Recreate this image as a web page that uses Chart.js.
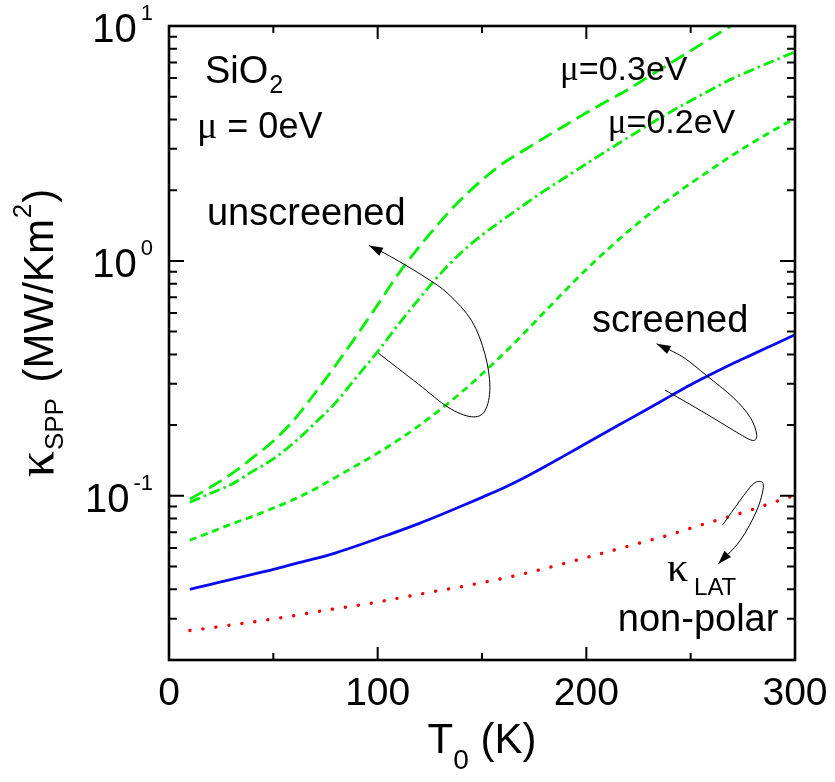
<!DOCTYPE html>
<html>
<head>
<meta charset="utf-8">
<script src="https://cdn.jsdelivr.net/npm/chart.js@4.4.1/dist/chart.umd.min.js"></script>
<style>
  html, body { margin: 0; padding: 0; background: #ffffff; }
  #wrap { width: 835px; height: 782px; }
</style>
</head>
<body>
<div id="wrap"><canvas id="c" width="835" height="782"></canvas></div>
<script>
// ---------------- data ----------------
const temperatures = [10,20,30,40,50,60,70,80,90,100,110,120,130,140,150,160,170,180,190,200,210,220,230,240,250,260,270,280,290,300];

// unscreened, mu = 0.3 eV (long dashes)
const unscreenedMu03 = [0.0968,0.109,0.124,0.145,0.171,0.211,0.274,0.361,0.482,0.650,0.883,1.15,1.47,1.83,2.21,2.60,2.95,3.35,3.78,4.27,4.79,5.37,6.10,6.92,7.85,8.91,10.1,11.5,12.9,14.5];
// unscreened, mu = 0.2 eV (dash-dot)
const unscreenedMu02 = [0.0938,0.1026,0.112,0.127,0.1435,0.1687,0.204,0.250,0.321,0.411,0.537,0.692,0.881,1.084,1.288,1.496,1.73,1.99,2.27,2.59,2.95,3.35,3.80,4.29,4.81,5.37,5.97,6.53,7.13,7.76];
// unscreened, mu = 0 eV (short dashes)
const unscreenedMu0 = [0.0647,0.070,0.0759,0.0817,0.0887,0.0966,0.107,0.120,0.135,0.152,0.173,0.1995,0.233,0.275,0.330,0.400,0.491,0.607,0.750,0.920,1.114,1.334,1.578,1.845,2.14,2.455,2.82,3.20,3.61,4.04];
// screened, mu = 0 eV (solid blue)
const screenedMu0 = [0.040,0.042,0.0441,0.0463,0.0486,0.0513,0.0540,0.0572,0.0612,0.0658,0.0707,0.0763,0.0828,0.0902,0.0985,0.1078,0.1192,0.1330,0.1490,0.1675,0.1880,0.2105,0.2360,0.2650,0.2970,0.3300,0.3650,0.4010,0.4410,0.4850];
// kappa_LAT non-polar (red dots)
const kappaLat = [0.0267,0.0274,0.0282,0.0290,0.0299,0.0309,0.0320,0.0331,0.0341,0.0353,0.0367,0.0381,0.0396,0.0410,0.0427,0.0445,0.0466,0.0490,0.0517,0.0546,0.0577,0.0610,0.0645,0.0683,0.0728,0.0775,0.0823,0.0877,0.0940,0.1005];

// axes
const xMin = 0, xMax = 300;
const yMin = 0.02, yMax = 10;
const xMajorTicks = [0, 100, 200, 300];
const xMinorTicks = [50, 150, 250];
const yMajorExponents = [-1, 0, 1];
const yMinorTicks = [0.02,0.03,0.04,0.05,0.06,0.07,0.08,0.09,0.2,0.3,0.4,0.5,0.6,0.7,0.8,0.9,2,3,4,5,6,7,8,9];

// annotation arrows, in data coordinates [T, value]; last point = arrow tip
const unscreenedArrow = [[100.3,0.405],[119.5,0.299],[133.8,0.238],[145.0,0.217],[151.4,0.230],[153.8,0.290],[151.4,0.402],[145.0,0.557],[133.8,0.724],[122.7,0.853],[106.7,1.038],[95.8,1.164]];
const screenedArrow = [[237.7,0.282],[257.6,0.223],[273.6,0.183],[280.0,0.172],[281.6,0.183],[278.5,0.216],[270.4,0.262],[257.6,0.325],[246.4,0.389],[233.7,0.444]];
const latArrow = [[265.3,0.0752],[278.4,0.1085],[283.2,0.115],[284.8,0.1085],[281.6,0.0863],[273.6,0.0643],[263.2,0.0512]];

// text annotations: anchor (left, baseline) in data coordinates
const labelSiO2 = {T: 17.2, v: 5.71};
const labelMu0 = {T: 13.4, v: 3.32};
const labelUnscreened = {T: 18.2, v: 1.417};
const labelMu03 = {T: 187.4, v: 5.89};
const labelMu02 = {T: 210.3, v: 3.50};
const labelScreened = {T: 202.7, v: 0.496};
const labelKappaLat = {T: 238.6, v: 0.0434};
const labelNonPolar = {T: 215.1, v: 0.02656};

// ---------------- chart ----------------
const SANS = "'Liberation Sans', Arial, Helvetica, sans-serif";
const SERIF = "'Liberation Serif', 'DejaVu Serif', serif";
const GREEN = 'rgb(0,240,0)';

function pts(vals) { return temperatures.map((t, i) => ({x: t, y: vals[i]})); }

function drawRich(ctx, x, y, segs) {
  let cx = x;
  for (const s of segs) {
    ctx.font = (s.weight || '') + ' ' + s.size + 'px ' + (s.family || SANS);
    cx += (s.dx || 0);
    ctx.fillText(s.t, cx, y + (s.dy || 0));
    cx += ctx.measureText(s.t).width;
  }
  return cx - x;
}
function measureRich(ctx, segs) {
  let w = 0;
  for (const s of segs) {
    ctx.font = (s.weight || '') + ' ' + s.size + 'px ' + (s.family || SANS);
    w += (s.dx || 0) + ctx.measureText(s.t).width;
  }
  return w;
}

function drawArrowPath(ctx, xs, ys, path) {
  const p = path.map(([t, v]) => [xs.getPixelForValue(t), ys.getPixelForValue(v)]);
  ctx.save();
  ctx.strokeStyle = '#000';
  ctx.fillStyle = '#000';
  ctx.lineWidth = 1;
  ctx.beginPath();
  ctx.moveTo(p[0][0], p[0][1]);
  const n = p.length;
  for (let i = 0; i < n - 1; i++) {
    const p0 = p[i - 1] || p[i], p1 = p[i], p2 = p[i + 1], p3 = p[i + 2] || p[i + 1];
    const c1 = [p1[0] + (p2[0] - p0[0]) / 6, p1[1] + (p2[1] - p0[1]) / 6];
    const c2 = [p2[0] - (p3[0] - p1[0]) / 6, p2[1] - (p3[1] - p1[1]) / 6];
    ctx.bezierCurveTo(c1[0], c1[1], c2[0], c2[1], p2[0], p2[1]);
  }
  ctx.stroke();
  const tip = p[n - 1];
  let dx = tip[0] - p[n - 2][0], dy = tip[1] - p[n - 2][1];
  const L = Math.hypot(dx, dy); dx /= L; dy /= L;
  const len = 14, hw = 4.5;
  const bx = tip[0] - dx * len, by = tip[1] - dy * len;
  ctx.beginPath();
  ctx.moveTo(tip[0], tip[1]);
  ctx.lineTo(bx - dy * hw, by + dx * hw);
  ctx.lineTo(bx + dy * hw, by - dx * hw);
  ctx.closePath();
  ctx.fill();
  ctx.restore();
}

const decorPlugin = {
  id: 'decor',
  afterDraw(chart) {
    const ctx = chart.ctx;
    const {left, right, top, bottom} = chart.chartArea;
    const xs = chart.scales.x, ys = chart.scales.y;
    ctx.save();
    ctx.fillStyle = '#000';
    ctx.strokeStyle = '#000';

    // ticks
    ctx.lineWidth = 2;
    ctx.beginPath();
    for (const v of xMajorTicks) {
      const px = xs.getPixelForValue(v);
      ctx.moveTo(px, bottom); ctx.lineTo(px, bottom - 13);
      ctx.moveTo(px, top); ctx.lineTo(px, top + 13);
    }
    for (const v of xMinorTicks) {
      const px = xs.getPixelForValue(v);
      ctx.moveTo(px, bottom); ctx.lineTo(px, bottom - 7);
      ctx.moveTo(px, top); ctx.lineTo(px, top + 7);
    }
    for (const e of yMajorExponents) {
      const py = ys.getPixelForValue(Math.pow(10, e));
      ctx.moveTo(left, py); ctx.lineTo(left + 15, py);
      ctx.moveTo(right, py); ctx.lineTo(right - 15, py);
    }
    for (const v of yMinorTicks) {
      const py = ys.getPixelForValue(v);
      ctx.moveTo(left, py); ctx.lineTo(left + 8, py);
      ctx.moveTo(right, py); ctx.lineTo(right - 8, py);
    }
    ctx.stroke();

    // frame
    ctx.lineWidth = 2.6;
    ctx.strokeRect(left, top, right - left, bottom - top);

    // x tick labels
    ctx.textBaseline = 'alphabetic';
    ctx.textAlign = 'center';
    ctx.font = '39px ' + SANS;
    for (const v of xMajorTicks) {
      ctx.fillText(String(v), xs.getPixelForValue(v), bottom + 45);
    }
    // y tick labels 10^e
    ctx.textAlign = 'left';
    for (const e of yMajorExponents) {
      const py = ys.getPixelForValue(Math.pow(10, e));
      const segs = [{t: '10', size: 40}, {t: String(e), size: 22, dy: -22, dx: 4}];
      const w = measureRich(ctx, segs);
      drawRich(ctx, left - 16 - w, py + 16, segs);
    }

    // x title: T0 (K)
    {
      const segs = [{t: 'T', size: 42}, {t: '0', size: 28, dy: 16}, {t: ' (K)', size: 42}];
      const w = measureRich(ctx, segs);
      drawRich(ctx, (left + right) / 2 - w / 2, bottom + 93, segs);
    }
    // y title: kappa_SPP (MW/Km^2), rotated
    {
      const segs = [
        {t: '\u03BA', size: 52, family: SERIF},
        {t: 'SPP', size: 26, dy: 10, dx: 1},
        {t: ' (MW/Km', size: 42, dx: 4},
        {t: '2', size: 26, dy: -22, dx: 1},
        {t: ')', size: 42, dx: 1}
      ];
      const w = measureRich(ctx, segs);
      ctx.save();
      ctx.translate(53, (top + bottom) / 2 - 10 + w / 2);
      ctx.rotate(-Math.PI / 2);
      drawRich(ctx, 0, 0, segs);
      ctx.restore();
    }

    // annotations
    const at = (L) => [xs.getPixelForValue(L.T), ys.getPixelForValue(L.v)];
    let p;
    p = at(labelSiO2);
    drawRich(ctx, p[0], p[1], [{t: 'SiO', size: 38}, {t: '2', size: 25, dy: 10, dx: 1}]);
    p = at(labelMu0);
    drawRich(ctx, p[0], p[1], [{t: '\u03BC', size: 38, family: SERIF}, {t: ' = 0eV', size: 36}]);
    p = at(labelUnscreened);
    drawRich(ctx, p[0], p[1], [{t: 'unscreened', size: 38}]);
    p = at(labelMu03);
    drawRich(ctx, p[0], p[1], [{t: '\u03BC', size: 35, family: SERIF}, {t: '=0.3eV', size: 34}]);
    p = at(labelMu02);
    drawRich(ctx, p[0], p[1], [{t: '\u03BC', size: 35, family: SERIF}, {t: '=0.2eV', size: 34}]);
    p = at(labelScreened);
    drawRich(ctx, p[0], p[1], [{t: 'screened', size: 38}]);
    p = at(labelKappaLat);
    drawRich(ctx, p[0], p[1], [{t: '\u03BA', size: 42, family: SERIF}, {t: 'LAT', size: 24, dy: 14, dx: 6}]);
    p = at(labelNonPolar);
    drawRich(ctx, p[0], p[1], [{t: 'non-polar', size: 38}]);

    drawArrowPath(ctx, xs, ys, unscreenedArrow);
    drawArrowPath(ctx, xs, ys, screenedArrow);
    drawArrowPath(ctx, xs, ys, latArrow);

    ctx.restore();
  }
};

const common = {pointRadius: 0, fill: false, cubicInterpolationMode: 'monotone', borderWidth: 2.8};

new Chart(document.getElementById('c'), {
  type: 'line',
  data: {
    datasets: [
      Object.assign({label: '\u03BC=0.3eV unscreened', data: pts(unscreenedMu03), borderColor: GREEN, borderDash: [15, 7]}, common),
      Object.assign({label: '\u03BC=0.2eV unscreened', data: pts(unscreenedMu02), borderColor: GREEN, borderDash: [11, 4, 2.5, 4]}, common),
      Object.assign({label: '\u03BC=0eV unscreened', data: pts(unscreenedMu0), borderColor: GREEN, borderDash: [7, 5]}, common),
      Object.assign({label: 'screened', data: pts(screenedMu0), borderColor: 'rgb(10,10,240)'}, common),
      Object.assign({label: '\u03BA LAT non-polar', data: pts(kappaLat), borderColor: 'rgb(245,0,0)', borderDash: [0.1, 13], borderCapStyle: 'round'}, common, {borderWidth: 3.4})
    ]
  },
  options: {
    responsive: false,
    animation: false,
    devicePixelRatio: 1,
    layout: {padding: {left: 169, right: 40, top: 26, bottom: 122}},
    plugins: {legend: {display: false}, tooltip: {enabled: false}},
    scales: {
      x: {type: 'linear', min: xMin, max: xMax, display: false},
      y: {type: 'logarithmic', min: yMin, max: yMax, display: false}
    }
  },
  plugins: [decorPlugin]
});
</script>
</body>
</html>
